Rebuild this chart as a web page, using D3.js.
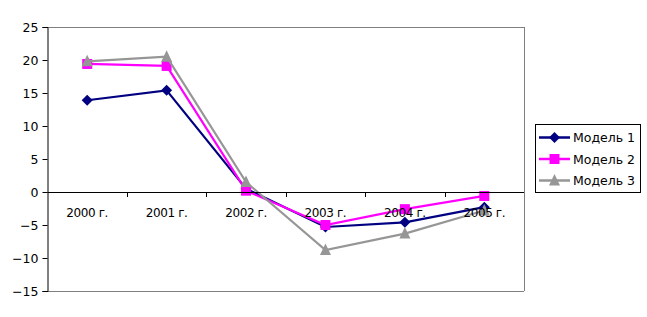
<!DOCTYPE html>
<html><head><meta charset="utf-8">
<script src="https://cdn.jsdelivr.net/npm/d3@7"></script>
<style>body{margin:0;background:#fff}svg{display:block}text{font-family:"DejaVu Sans",Verdana,sans-serif}</style>
</head><body>
<svg id="c" width="647" height="317"></svg>
<script>
const categories = ["2000 г.","2001 г.","2002 г.","2003 г.","2004 г.","2005 г."];
const model1 = [13.9, 15.4, 0.5, -5.3, -4.6, -2.3];
const model2 = [19.4, 19.1, 0.2, -5.0, -2.6, -0.6];
const model3 = [19.8, 20.5, 1.5, -8.8, -6.3, -2.8];
const seriesNames = ["Модель 1","Модель 2","Модель 3"];
const seriesColors = ["#000080","#ff00ff","#969696"];
const yTicks = [25,20,15,10,5,0,-5,-10,-15];

// custom marker shapes
const diamond = {draw(ctx){ctx.moveTo(0,-5.5);ctx.lineTo(5.5,0);ctx.lineTo(0,5.5);ctx.lineTo(-5.5,0);ctx.closePath();}};
const square = {draw(ctx){ctx.moveTo(-5,-5);ctx.lineTo(5,-5);ctx.lineTo(5,5);ctx.lineTo(-5,5);ctx.closePath();}};
const triangle = {draw(ctx){ctx.moveTo(0,-6.5);ctx.lineTo(5.5,5);ctx.lineTo(-5.5,5);ctx.closePath();}};
const seriesShapes = [diamond, square, triangle];

const svg = d3.select("#c");
const L=47.5, R=524, T=27, B=291;
const x = d3.scaleBand().domain(categories).range([L,R]);
const y = d3.scaleLinear().domain([-15,25]).range([B,T]);
const series = [model1, model2, model3];

// plot frame
svg.append("line").attr("x1",L).attr("x2",R).attr("y1",T+0.5).attr("y2",T+0.5).attr("stroke","#808080");
svg.append("line").attr("x1",R+0.5).attr("x2",R+0.5).attr("y1",T).attr("y2",B).attr("stroke","#808080");
svg.append("line").attr("x1",L).attr("x2",R).attr("y1",B+0.5).attr("y2",B+0.5).attr("stroke","#808080");

// y axis
const yAxis = d3.axisLeft(y).tickValues(yTicks).tickSize(5).tickPadding(4).tickFormat(d3.format("d"));
const yg = svg.append("g").attr("transform",`translate(${L},0)`).call(yAxis);
yg.selectAll("text").attr("font-size",12.5).attr("fill","#000").attr("font-family","DejaVu Sans");
yg.selectAll("line,path").attr("stroke","#000");

// series
series.forEach((vals,i)=>{
  const line = d3.line().x((d,j)=>x(categories[j])+x.bandwidth()/2).y(d=>y(d));
  svg.append("path").datum(vals).attr("d",line).attr("fill","none").attr("stroke",seriesColors[i]).attr("stroke-width",2.2);
  svg.selectAll(null).data(vals).enter().append("path")
    .attr("d",d3.symbol().type(seriesShapes[i]))
    .attr("transform",(d,j)=>`translate(${x(categories[j])+x.bandwidth()/2},${y(d)})`)
    .attr("fill",seriesColors[i]);
});

// x axis at zero
const xg = svg.append("g").attr("transform",`translate(0,${y(0)+0.5})`);
xg.append("line").attr("x1",L).attr("x2",R).attr("stroke","#000");
svg.selectAll(null).data(d3.range(1,categories.length)).enter().append("line")
  .attr("x1",i=>Math.round(L+i*x.step())+0.5).attr("x2",i=>Math.round(L+i*x.step())+0.5)
  .attr("y1",y(0)).attr("y2",y(0)+5).attr("stroke","#000");
svg.selectAll(null).data(categories).enter().append("text")
  .attr("x",d=>x(d)+x.bandwidth()/2).attr("y",y(0)+24.5)
  .attr("text-anchor","middle").attr("font-size",12).attr("letter-spacing",-0.4).attr("fill","#000").text(d=>d);

// legend
const lg = svg.append("g");
lg.append("rect").attr("x",535.5).attr("y",124.5).attr("width",105).attr("height",68).attr("fill","#fff").attr("stroke","#000");
seriesNames.forEach((n,i)=>{
  const yy = 137.5 + i*21.5;
  lg.append("line").attr("x1",539).attr("x2",570).attr("y1",yy).attr("y2",yy).attr("stroke",seriesColors[i]).attr("stroke-width",2.5);
  lg.append("path").attr("d",d3.symbol().type(seriesShapes[i])).attr("transform",`translate(554.5,${yy})`).attr("fill",seriesColors[i]);
  lg.append("text").attr("x",573).attr("y",yy+4.5).attr("font-size",12.5).attr("fill","#000").text(n);
});
</script>
</body></html>
